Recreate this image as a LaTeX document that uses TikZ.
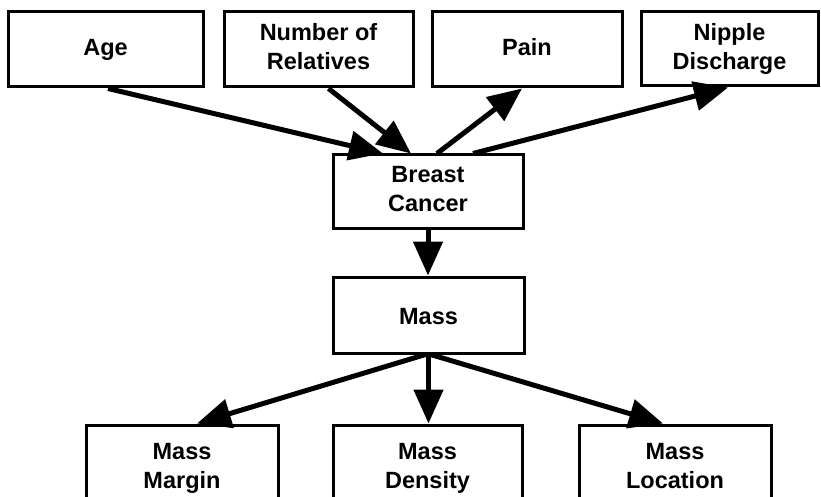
\documentclass[tikz,border=0pt]{standalone}
\usepackage{fontspec}
\setmainfont{Liberation Sans}
\usetikzlibrary{arrows.meta,calc}
\begin{document}
\begin{tikzpicture}[x=1pt,y=-1pt,
 box/.style={draw, line width=3pt, rectangle, inner sep=0pt, align=center,
   font=\fontsize{23.5}{29}\selectfont\bfseries},
 link/.style={line width=5pt, -{Triangle[length=34pt,width=29pt]}}]
\useasboundingbox (0,0) rectangle (821,497);
\clip (0,0) rectangle (821,497);
\node[box, minimum width=195pt, minimum height=75pt] (age) at (105.5,49.5) {Age\strut};
\node[box, minimum width=189pt, minimum height=75pt] (numrel) at (318.5,49.5) {Number of\strut\\Relatives\strut};
\node[box, minimum width=190pt, minimum height=75pt] (pain) at (527,49.5) {Pain\strut};
\node[box, minimum width=177pt, minimum height=74pt] (nipple) at (729.5,49) {Nipple\strut\\Discharge\strut};
\node[box, minimum width=190pt, minimum height=73pt] (bc) at (428,191.5) {Breast\strut\\Cancer\strut};
\node[box, minimum width=191pt, minimum height=76pt] (mass) at (428.5,315) {\raisebox{-4pt}{Mass}\strut};
\node[box, minimum width=192pt, minimum height=86pt] (margin) at (182,468) {Mass\strut\\Margin\strut};
\node[box, minimum width=189pt, minimum height=86pt] (density) at (427.5,468) {Mass\strut\\Density\strut};
\node[box, minimum width=192pt, minimum height=86pt] (location) at (675,468) {Mass\strut\\Location\strut};
\draw[link] ([xshift=2.5pt]age.south) -- ([xshift=-45pt]bc.north);
\draw[link] ([xshift=10pt]numrel.south) -- ([xshift=-17pt]bc.north);
\draw[link] ([xshift=9pt]bc.north) -- ([xshift=-5pt]pain.south);
\draw[link] ([xshift=45pt]bc.north) -- ([xshift=-1.5pt]nipple.south);
\draw[link] (bc.south) -- (bc.south |- mass.north);
\draw[link] ([xshift=-3pt]mass.south) -- ([xshift=15pt]margin.north);
\draw[link] (mass.south) -- (mass.south |- density.north);
\draw[link] ([xshift=2pt]mass.south) -- ([xshift=-12pt]location.north);
\end{tikzpicture}
\end{document}
